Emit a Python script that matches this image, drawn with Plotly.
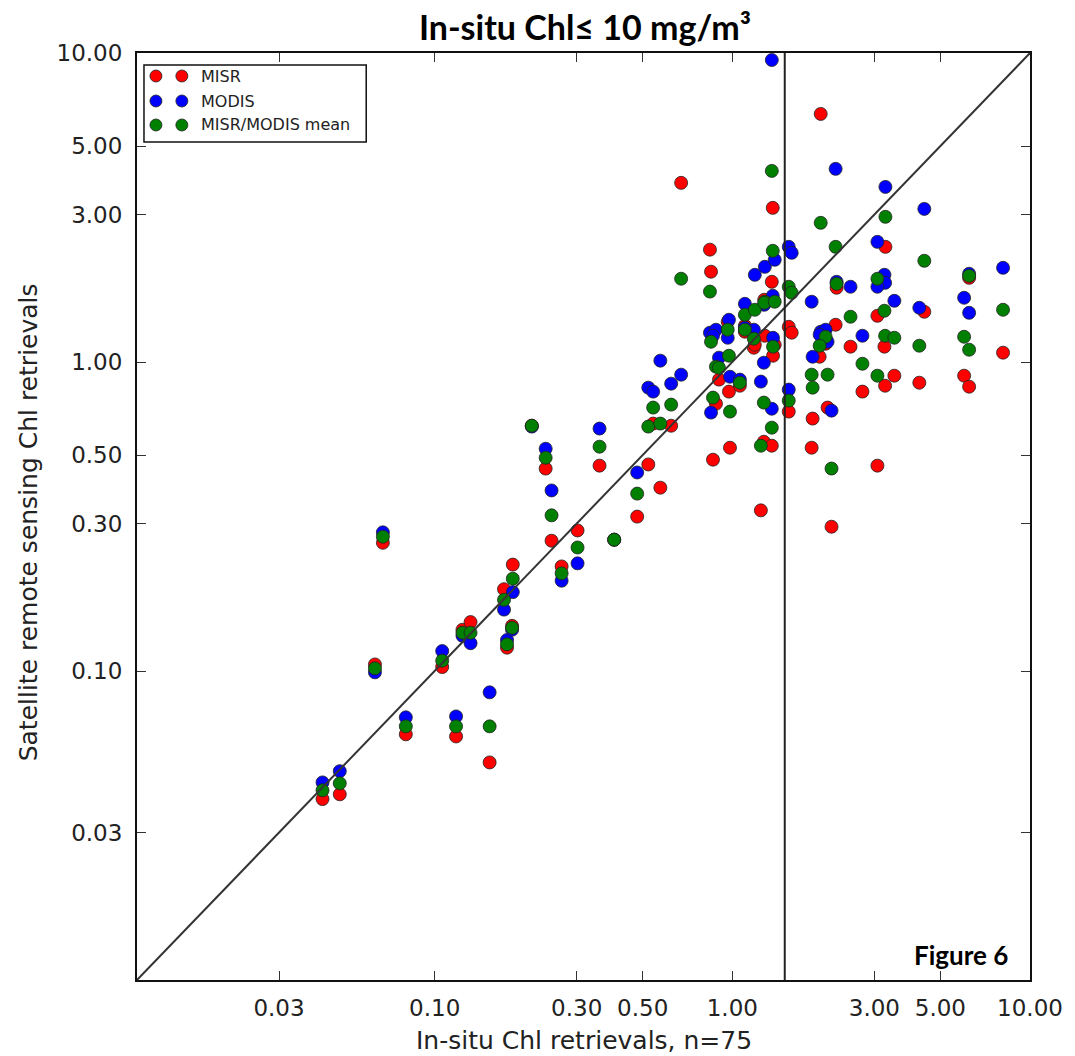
import plotly.graph_objects as go

# In-situ Chl (x) and satellite retrievals (y), mg/m^3
insitu = [0.042, 0.048, 0.063, 0.067, 0.080, 0.106, 0.118, 0.124, 0.132, 0.153,
          0.171, 0.175, 0.182, 0.183, 0.212, 0.236, 0.247, 0.267, 0.302, 0.358,
          0.401, 0.479, 0.522, 0.542, 0.573, 0.623, 0.673, 0.841, 0.848, 0.881,
          0.902, 0.861, 0.974, 0.982, 0.965, 1.060, 1.102, 1.181, 1.190, 1.247,
          1.276, 1.286, 1.280, 1.357, 1.367, 1.388, 1.370, 1.357, 1.547, 1.583,
          1.547, 1.847, 1.861, 1.981, 2.058, 2.089, 1.965, 2.154, 2.223, 2.240,
          2.495, 2.736, 3.268, 3.072, 3.243, 3.260, 3.072, 3.502, 4.415, 4.248,
          6.007, 6.244, 6.244, 8.118, 1.102]
misr = [0.0385, 0.0399, 0.105, 0.260, 0.0624, 0.103, 0.0614, 0.136, 0.144, 0.0506,
        0.184, 0.119, 0.140, 0.221, 0.622, 0.452, 0.264, 0.218, 0.285, 0.462,
        0.266, 0.316, 0.466, 0.632, 0.392, 0.622, 3.80, 2.31, 1.96, 0.733,
        0.877, 0.483, 0.802, 0.528, 1.350, 0.838, 1.310, 1.112, 1.137, 0.331,
        0.552, 1.216, 1.590, 1.818, 3.154, 1.137, 1.048, 0.536, 1.300, 1.244,
        0.691, 0.528, 0.656, 6.35, 1.146, 0.712, 1.040, 0.293, 1.320, 1.739,
        1.121, 0.802, 2.359, 1.411, 1.121, 0.838, 0.462, 0.903, 1.454, 0.857,
        0.903, 1.873, 0.832, 1.072, 1.253]
modis = [0.0436, 0.0474, 0.099, 0.281, 0.0708, 0.116, 0.0713, 0.130, 0.123, 0.0853,
         0.158, 0.126, 0.136, 0.180, 0.618, 0.524, 0.384, 0.196, 0.223, 0.609,
         0.266, 0.439, 0.826, 0.802, 1.010, 0.851, 0.910, 1.244, 0.686, 1.272,
         1.033, 1.216, 1.370, 0.896, 1.198, 0.877, 1.543, 1.272, 1.915, 0.864,
         0.995, 2.033, 1.532, 9.49, 1.638, 2.142, 1.198, 0.706, 2.359, 2.256,
         0.814, 1.567, 1.040, 1.253, 1.272, 1.163, 1.226, 0.696, 4.217, 1.818,
         1.752, 1.216, 3.687, 2.448, 1.915, 1.804, 1.752, 1.578, 3.130, 1.498,
         1.614, 1.930, 1.443, 2.018, 1.291]
mean = [0.0411, 0.0433, 0.102, 0.272, 0.0662, 0.108, 0.0662, 0.133, 0.133, 0.0662,
        0.170, 0.122, 0.138, 0.199, 0.622, 0.490, 0.319, 0.207, 0.251, 0.532,
        0.266, 0.375, 0.618, 0.712, 0.632, 0.728, 1.86, 1.69, 1.163, 0.966,
        0.958, 0.767, 1.048, 0.691, 1.272, 0.857, 1.422, 1.190, 1.476, 0.536,
        0.739, 1.567, 1.555, 4.154, 2.290, 1.567, 1.121, 0.613, 1.752, 1.675,
        0.750, 0.910, 0.826, 2.821, 1.207, 0.910, 1.129, 0.452, 2.359, 1.791,
        1.401, 0.987, 2.950, 1.859, 1.465, 1.216, 0.903, 1.198, 2.126, 1.129,
        1.207, 1.901, 1.096, 1.476, 1.272]

series_names = ["MISR", "MODIS", "MISR/MODIS mean"]
series_colors = ["#ff0000", "#0000ff", "#008000"]
series_values = [misr, modis, mean]

tick_vals = [0.03, 0.10, 0.30, 0.50, 1.00, 3.00, 5.00, 10.00]
tick_text = ["0.03", "0.10", "0.30", "0.50", "1.00", "3.00", "5.00", "10.00"]
one_to_one = [0.01, 10.0]
threshold_x = 1.5

fig = go.Figure()
for name, col, vals in zip(series_names, series_colors, series_values):
    fig.add_trace(go.Scatter(
        x=insitu, y=vals, mode="markers", name=name, showlegend=False,
        marker=dict(size=13, color=col, line=dict(width=0.8, color="#222222")),
    ))

fig.add_trace(go.Scatter(x=one_to_one, y=one_to_one, mode="lines", showlegend=False,
                         line=dict(color="#333333", width=2)))
fig.add_trace(go.Scatter(x=[threshold_x, threshold_x], y=one_to_one, mode="lines",
                         showlegend=False, line=dict(color="#222222", width=2)))

axis_common = dict(
    type="log", range=[-2, 1], tickvals=tick_vals, ticktext=tick_text,
    ticks="inside", ticklen=9, tickwidth=1.3, tickcolor="#333333",
    showline=True, linecolor="#111111", linewidth=2, mirror="ticks",
    showgrid=False, zeroline=False,
    tickfont=dict(family="DejaVu Sans", size=23, color="#222222"),
)

fig.update_layout(
    width=1075, height=1056, autosize=False,
    margin=dict(l=137, r=42, t=53, b=76),
    plot_bgcolor="white", paper_bgcolor="white",
    xaxis=dict(**axis_common, ticklabelstandoff=6),
    yaxis=dict(**axis_common, ticklabelstandoff=8),
    title=dict(text="<b>In-situ Chl≤ 10 mg/m³</b>", x=585 / 1075, xanchor="center",
               y=1 - 28 / 1056, yanchor="middle",
               font=dict(family="Lato, Open Sans", size=34, color="#000000")),
    showlegend=False,
)

# axis titles
fig.add_annotation(text="In-situ Chl retrievals, n=75", xref="paper", yref="paper",
                   x=0.5, y=-60 / 927, yanchor="middle", showarrow=False,
                   font=dict(family="DejaVu Sans", size=25, color="#222222"))
fig.add_annotation(text="Satellite remote sensing Chl retrievals", xref="paper", yref="paper",
                   x=-109 / 896, y=(980 - 522) / 927, xanchor="center", yanchor="middle",
                   textangle=-90, showarrow=False,
                   font=dict(family="DejaVu Sans", size=25, color="#222222"))
fig.add_annotation(text="<b>Figure 6</b>", xref="paper", yref="paper",
                   x=(1013 - 137) / 896, y=(980 - 955) / 927, xanchor="right", yanchor="middle",
                   showarrow=False, font=dict(family="Lato, Open Sans", size=26, color="#000000"))

# matplotlib-style legend (two markers per entry)
def px_x(p):
    return (p - 137) / 896

def px_y(p):
    return (980 - p) / 927

fig.add_shape(type="rect", xref="paper", yref="paper",
              x0=px_x(144), x1=px_x(367), y0=px_y(142), y1=px_y(65),
              line=dict(color="#111111", width=1.5), fillcolor="white", layer="above")
row_y = [76, 101, 125]
for name, col, ry in zip(series_names, series_colors, row_y):
    for mx in (156, 182):
        fig.add_shape(type="circle", xref="paper", yref="paper",
                      xsizemode="pixel", ysizemode="pixel",
                      xanchor=px_x(mx), yanchor=px_y(ry),
                      x0=-6, x1=6, y0=-6, y1=6,
                      fillcolor=col, line=dict(color="#222222", width=0.8), layer="above")
    fig.add_annotation(text=name, xref="paper", yref="paper", x=px_x(199), y=px_y(ry),
                       xanchor="left", yanchor="middle", showarrow=False,
                       font=dict(family="DejaVu Sans", size=16, color="#222222"))

fig.write_html("out.html", config={"displayModeBar": False},
               post_script="document.body.style.margin='0px';")
